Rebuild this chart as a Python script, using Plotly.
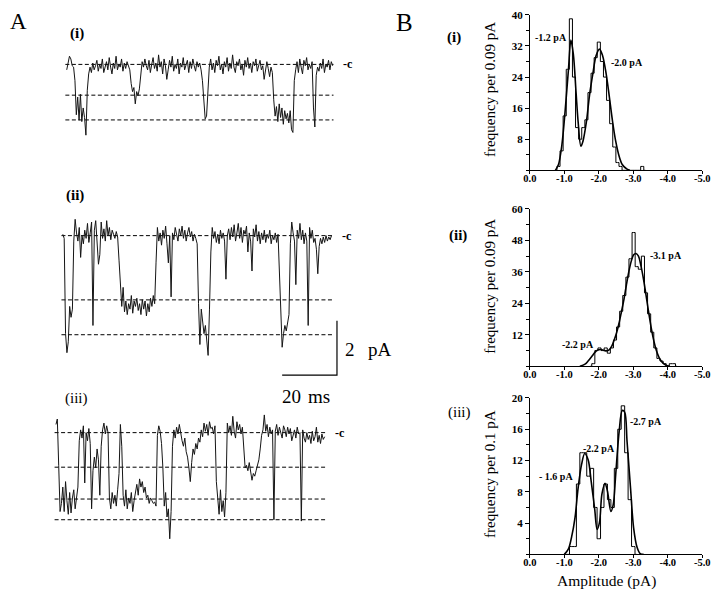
import numpy as np
import plotly.graph_objects as go

W, H = 720, 591
SERIF = "Liberation Serif"

# ---------------- DATA ----------------
# Panel A: single-channel current traces, pA (closed level = 0), sampled every 0.5 ms
DT_MS = 0.5
trace_i = ([-0.2, 0.1, 0.3, 0.2, -0.05, -0.1]
           + [-0.6, -1.85, -1.2, -2.05, -1.1, -2.1, -1.6, -1.95, -2.6, -0.95]
           + [-0.35, -0.1, -0.3, 0.05, -0.2, -0.05, 0.15, -0.25, 0.0, -0.15, 0.2, -0.3, -0.05, 0.1, -0.2, 0.25,
              -0.1, -0.35, 0.05, -0.15, 0.3, -0.2, 0.0, -0.1, 0.2, -0.25, 0.05, -0.15, 0.1, -0.05, -0.2]
           + [-0.7, -1.0, -0.85, -1.45, -1.0, -1.15, -0.9, -0.3]
           + [0.1, -0.1, 0.2, -0.05, -0.2, 0.15, -0.3, 0.0, 0.25, -0.15, 0.05, -0.25, 0.35, -0.1, 0.1, -0.35,
              0.2, -0.05, -0.55, -0.2, 0.15, -0.1, 0.3, -0.25, 0.0, -0.15, 0.2, -0.35, 0.05, -0.1, 0.25, -0.2,
              -0.05, 0.15, -0.3, 0.1, -0.15, 0.2, -0.05, -0.25, 0.1, -0.1, 0.05, -0.2]
           + [-0.6, -1.5, -2.0, -1.9, -0.9]
           + [-0.1, 0.2, -0.2, 0.05, -0.3, 0.15, -0.05, 0.3, -0.2, 0.0, -0.35, 0.1, -0.1, 0.25, -0.25, 0.05,
              -0.15, 0.35, -0.1, -0.3, 0.1, -0.05, 0.2, -0.2, 0.0, -0.4, 0.15, -0.1, 0.25, -0.15, 0.05, -0.3,
              0.1, -0.05, 0.2, -0.25, 0.0, 0.15, -0.2, -0.05, -0.55, -0.2, 0.1, -0.15, -0.45, -0.1, -0.3]
           + [-1.3, -1.9, -1.55, -2.1, -1.45, -1.95, -1.6, -2.2, -1.7, -2.0, -1.8, -2.15, -1.7, -2.4, -2.5]
           + [-0.6, -0.2, 0.1, -0.3, 0.2, -0.1, -0.35, 0.15, -0.05, 0.25, -0.2, 0.0, -0.15, 0.1]
           + [-1.6, -2.3]
           + [-0.4, -0.1, -0.25, 0.05, -0.15, 0.2, -0.3, 0.0, -0.1, 0.15, -0.2, 0.1, -0.05])

trace_ii = ([0.05, -0.1]
            + [-3.6, -4.3, -3.9, -2.6, -3.0, -2.7]
            + [-0.2, 0.6, 0.1, -0.2, 0.3, -0.8, 0.0, -0.3, 0.2, -0.1, 0.45, -0.25, 0.1, 0.5, -3.3, 0.2, 0.55,
               -0.3, -1.05, -0.7, 0.5, -0.1, 0.25, -0.2, 0.55, 0.0, 0.3, -0.15, 0.2, 0.05, -0.1, 0.15, -0.05]
            + [-0.9, -2.0, -2.6, -1.9, -2.8, -2.4, -2.9, -2.5, -2.7, -2.2, -2.85, -2.4, -2.6, -2.3, -2.75, -2.5,
               -2.9, -2.35, -2.7, -2.4, -2.95, -2.5, -2.8, -2.3, -2.6, -2.2, -2.5]
            + [-1.0, 0.3, -0.2, 0.1, -0.35, 0.2, -0.1, 0.35, -0.3, -1.0, 0.0, -2.25, 0.1, -0.15, 0.3, 0.05, -0.2,
               0.25, 0.0, 0.35, -0.1, 0.2, -0.2, 0.1, 0.3, -0.05, 0.15, -0.2, 0.05, -0.1, -0.3]
            + [-2.5, -4.0, -2.7, -3.2, -3.6, -3.3, -3.8, -4.4, -2.7, -0.6]
            + [0.3, -0.1, 0.15, -0.25, 0.05, -0.3, 0.2, -0.1, 0.1, -0.2, -1.6, 0.0, 0.25, -0.15, 0.3, -0.05, 0.4,
               -0.2, 0.1, 0.45, -0.1, 0.3, -0.25, 0.2, 0.05, 0.35, -0.6, 0.1, -0.2, -1.3, 0.25, -0.05, 0.4, -0.2,
               0.15, -0.3, 0.1, -0.15, 0.2, -0.25, 0.05, -0.1, 0.2, -0.3, 0.0, -0.15, 0.1, -0.25, 0.05]
            + [-1.5, -3.0, -4.1, -3.6, -3.3, -3.5, -3.2, -2.9]
            + [-0.3, 0.5, 0.1, -0.2, -1.8, 0.2, -0.1, 0.45, -0.15, 0.2, -0.3, 0.1, -0.2, -3.3, 0.3, -0.1, 0.2,
               -0.25, -0.1, -0.5, -1.4, -0.4, -0.1, -0.3, -0.05, -0.25, 0.0, -0.2, -0.05, -0.15, 0.0])

trace_iii = ([0.3, 0.5]
             + [-1.2, -2.9, -2.6, -2.0, -2.9, -1.8, -2.5, -3.0, -2.2, -2.95, -2.4, -2.1, -2.8, -2.3, -2.0]
             + [-0.3, 0.1, -0.2, 0.25, -1.85, 0.0, -0.3, 0.15, -0.4]
             + [-2.8, -1.4, -0.9, -1.3, -0.6, -1.0, -2.3, -0.5]
             + [0.1, 0.35, -0.05, 0.25, 0.0]
             + [-2.4, -2.8, -2.2, -2.6, -2.3, -2.7, -2.1, -1.5]
             + [0.3, -0.5]
             + [-2.3, -2.7, -2.1, -2.8, -2.4, -2.6, -2.2, -2.9, -2.5, -2.1, -1.9, -2.3, -1.7, -2.0, -1.8, -2.2,
                -2.0, -2.4, -2.3, -2.6, -2.4, -2.5, -2.6, -2.55, -2.7]
             + [-0.1, 0.25, 0.05, -0.4]
             + [-1.3, -2.7, -2.2, -3.1, -2.8, -3.9, -2.9]
             + [-0.5, 0.1, -0.2, 0.2, -0.05, 0.3, -0.1]
             + [-0.3, -0.5, -0.2, -0.7, -0.9, -1.3, -1.8, -1.1, -0.6, -0.8, -0.4, -0.6, -0.2, -0.35]
             + [0.1, -0.15, 0.35, 0.05, 0.3, -0.1, 0.4, 0.15, 0.2, -0.05, 0.25]
             + [-1.8, -2.6, -3.0, -2.1, -2.9, -2.5, -3.1, -2.2]
             + [0.35, 0.0, 0.25, -0.1, 0.6, 0.05, -0.2, 0.4, 0.1, 0.3, -0.05, 0.2]
             + [-0.5, -1.3, -1.2, -1.4, -1.1, -1.5, -1.75, -1.5, -1.6, -1.4, -1.2, -1.0, -0.6]
             + [-0.1, 0.1, 0.65, 0.05, 0.3, -0.15, 0.2, -0.05, 0.1]
             + [-3.2]
             + [0.05, 0.3, -0.1, 0.2, 0.0, -0.2, 0.25, 0.1, -0.15, 0.2, -0.05, 0.15, -0.3, -0.1, 0.1, -0.2, 0.2,
                -0.05, 0.0]
             + [-3.25]
             + [0.1, -0.2, -0.35, 0.0, -0.25, -0.1, -0.4, 0.05, -0.3, -0.15, 0.2, -0.35, -0.1, -0.4, -0.05,
                -0.25, -0.15])

levels_i = [0.0, -1.13, -2.04]
levels_ii = [0.0, -2.36, -3.64]
levels_iii = [0.0, -1.27, -2.44, -3.2]

SCALE_PA = 2
SCALE_MS = 20

# Panel B: amplitude histograms
hist_i_first, hist_i_width = -0.74, 0.09
hist_i_counts = [0, 1, 5, 14, 26, 39, 24, 11, 8, 11, 13, 20, 25, 29, 33, 28, 24, 18, 12, 6, 2, 1, 0,
                 0, 0, 0, 0, 0, 1, 0]
fit_i_x = [-0.74, -0.83, -0.93, -1.02, -1.12, -1.19, -1.26, -1.34, -1.40, -1.48, -1.54, -1.64, -1.73,
           -1.83, -1.92, -2.02, -2.11, -2.21, -2.30, -2.40, -2.49, -2.59, -2.68, -2.82, -2.90]
fit_i_y = [0, 1.5, 6.6, 15, 26, 33.5, 30, 20, 12.5, 6.2, 7.5, 12.5, 19.3, 25, 29.5, 31.2, 29.5, 25, 19.3,
           12.5, 7.5, 3.6, 1.5, 0.3, 0]

hist_ii_first, hist_ii_width = -1.75, 0.09
hist_ii_counts = [0, 1, 6, 7, 6, 7, 5, 7, 10, 15, 21, 27, 34, 41, 51, 38, 37, 42, 28, 20, 13, 7, 3, 2, 1,
                  0, 1, 1, 0]
fit_ii_x = [-1.45, -1.60, -1.69, -1.80, -1.88, -1.97, -2.05, -2.11, -2.20, -2.30, -2.38, -2.44, -2.52,
            -2.59, -2.66, -2.73, -2.80, -2.87, -2.94, -3.01, -3.08, -3.15, -3.22, -3.30, -3.39, -3.46,
            -3.53, -3.60, -3.67, -3.75, -3.82, -3.90, -3.96, -4.05]
fit_ii_y = [0, 0.8, 2.0, 3.8, 5.2, 6.2, 6.4, 6.2, 5.9, 6.3, 7.8, 9.8, 13, 16.6, 21, 25.5, 31, 36, 40,
            42.5, 43, 42, 38.5, 33, 25.4, 19.5, 14, 9.5, 6, 3.3, 1.8, 0.8, 0.3, 0]

hist_iii_first, hist_iii_width = -1.0, 0.1
hist_iii_counts = [0, 0, 1, 1, 9, 13, 13, 10, 11, 6, 2, 6, 9, 7, 6, 11, 16, 19, 13, 7, 1, 0]
fit_iii_x = [-1.0, -1.12, -1.21, -1.31, -1.40, -1.50, -1.59, -1.69, -1.78, -1.88, -1.95, -2.02, -2.09,
             -2.18, -2.25, -2.35, -2.42, -2.49, -2.59, -2.68, -2.75, -2.82, -2.92, -3.01, -3.11, -3.20, -3.30]
fit_iii_y = [0, 0.7, 2.2, 4.7, 8.5, 11.5, 12.9, 12.1, 9.3, 5.8, 3.2, 4.1, 7.7, 9.1, 8.1, 5.5, 6.4, 10.2,
             15.7, 18.4, 18.2, 14.4, 8.5, 3.4, 0.9, 0.1, 0]

amp_ticks = [0.0, -1.0, -2.0, -3.0, -4.0, -5.0]
amp_ticktext = ["0.0", "-1.0", "-2.0", "-3.0", "-4.0", "-5.0"]

# ---------------- LAYOUT HELPERS ----------------
def dom_x(p0, p1):
    return [p0 / W, p1 / W]

def dom_y(top, bot):
    return [1 - bot / H, 1 - top / H]

def axname(letter, n):
    return f"{letter}axis" if n == 1 else f"{letter}axis{n}"

def axref(letter, n):
    return letter if n == 1 else f"{letter}{n}"

fig = go.Figure()
layout = {}
annotations = []

def ann(text, x, y, size, xref="paper", yref="paper", xanchor="center", yanchor="middle",
        bold=False, angle=0):
    if xref == "paper":
        x = x / W
    if yref == "paper":
        y = 1 - y / H
    annotations.append(dict(text=text, x=x, y=y, xref=xref, yref=yref, xanchor=xanchor,
                            yanchor=yanchor, showarrow=False, textangle=angle,
                            font=dict(family=SERIF, size=size, color="black",
                                      weight="bold" if bold else "normal")))

# ---------------- HISTOGRAMS ----------------
hists = [
    dict(n=1, first=hist_i_first, width=hist_i_width, counts=hist_i_counts, fx=fit_i_x, fy=fit_i_y,
         top=9, bot=166, ymax=40, dtick=8, minor=4, title="frequency per 0.09 pA", title_y=84,
         labels=[("-1.2 pA", -0.6, 34.1), ("-2.0 pA", -2.83, 27.8)]),
    dict(n=2, first=hist_ii_first, width=hist_ii_width, counts=hist_ii_counts, fx=fit_ii_x, fy=fit_ii_y,
         top=205, bot=364, ymax=60, dtick=12, minor=6, title="frequency per 0.09 pA", title_y=283,
         labels=[("-3.1 pA", -3.94, 42.3), ("-2.2 pA", -1.39, 8.3)]),
    dict(n=3, first=hist_iii_first, width=hist_iii_width, counts=hist_iii_counts, fx=fit_iii_x,
         fy=fit_iii_y, top=396, bot=554, ymax=20, dtick=4, minor=2, title="frequency per 0.1 pA",
         title_y=473,
         labels=[("-2.7 pA", -3.38, 17.0), ("-2.2 pA", -2.0, 13.6), ("- 1.6 pA", -0.77, 10.0)]),
]

for h in hists:
    n = h["n"]
    centers = h["first"] - h["width"] * np.arange(len(h["counts"]))
    fig.add_trace(go.Scatter(x=centers, y=h["counts"], mode="lines",
                             line=dict(color="black", width=1, shape="hvh"),
                             xaxis=axref("x", n), yaxis=axref("y", n), cliponaxis=False,
                             showlegend=False, hoverinfo="skip"))
    fig.add_trace(go.Scatter(x=h["fx"], y=h["fy"], mode="lines",
                             line=dict(color="black", width=1.6, shape="spline", smoothing=0.9),
                             xaxis=axref("x", n), yaxis=axref("y", n), cliponaxis=False,
                             showlegend=False, hoverinfo="skip"))
    layout[axname("x", n)] = dict(
        domain=dom_x(534, 710), range=[0, -5], anchor=axref("y", n),
        tickvals=amp_ticks, ticktext=amp_ticktext, ticks="outside", ticklen=3, tickwidth=1,
        tickcolor="black", showline=True, linecolor="black", linewidth=1, showgrid=False,
        zeroline=False, ticklabelstandoff=-5,
        tickfont=dict(family=SERIF, size=10.5, color="black", weight="bold"))
    layout[axname("y", n)] = dict(
        domain=dom_y(h["top"], h["bot"]), range=[0, h["ymax"]], anchor=axref("x", n),
        tickvals=list(range(h["dtick"], h["ymax"] + 1, h["dtick"])), ticks="outside", ticklen=4,
        tickwidth=1, tickcolor="black",
        minor=dict(ticks="outside", ticklen=2.5, tickcolor="black", dtick=h["minor"], tick0=0),
        showline=True, linecolor="black", linewidth=1, showgrid=False, zeroline=False,
        tickfont=dict(family=SERIF, size=11, color="black", weight="bold"))
    for txt, lx, ly in h["labels"]:
        ann(txt, lx, ly, 10, xref=axref("x", n), yref=axref("y", n), bold=True)
    ann(h["title"], 493, h["title_y"], 15, angle=-90)

ann("Amplitude (pA)", 612, 581, 15.5)

# ---------------- TRACES ----------------
PX_PER_MS = 2.8
PX_PER_PA = 27.5
TR_X0, TR_X1 = 40, 380

traces = [
    dict(n=4, vals=trace_i, levels=levels_i, start_px=61, closed_py=59, top=40, bot=140),
    dict(n=5, vals=trace_ii, levels=levels_ii, start_px=57, closed_py=232, top=195, bot=380),
    dict(n=6, vals=trace_iii, levels=levels_iii, start_px=50, closed_py=431, top=400, bot=560),
]

for tr in traces:
    n = tr["n"]
    t = np.arange(len(tr["vals"])) * DT_MS
    xr = [(TR_X0 - tr["start_px"]) / PX_PER_MS, (TR_X1 - tr["start_px"]) / PX_PER_MS]
    yr = [-(tr["bot"] - tr["closed_py"]) / PX_PER_PA, (tr["closed_py"] - tr["top"]) / PX_PER_PA]
    for lev in tr["levels"]:
        fig.add_trace(go.Scatter(x=[t[0] - 0.5, t[-1] + 0.3], y=[lev, lev], mode="lines",
                                 line=dict(color="black", width=1, dash="4px,2.5px"),
                                 xaxis=axref("x", n), yaxis=axref("y", n),
                                 showlegend=False, hoverinfo="skip"))
    fig.add_trace(go.Scatter(x=t, y=tr["vals"], mode="lines",
                             line=dict(color="#151515", width=1),
                             xaxis=axref("x", n), yaxis=axref("y", n), cliponaxis=False,
                             showlegend=False, hoverinfo="skip"))
    layout[axname("x", n)] = dict(domain=dom_x(TR_X0, TR_X1), range=xr, anchor=axref("y", n),
                                  visible=False)
    layout[axname("y", n)] = dict(domain=dom_y(tr["top"], tr["bot"]), range=yr,
                                  anchor=axref("x", n), visible=False)
    ann("-c", tr["start_px"] + (t[-1] + 3.2) * PX_PER_MS, tr["closed_py"], 12, xanchor="left",
        bold=True)

# scale bar (drawn in trace (ii) coordinates)
tr2 = traces[1]
corner_t = (337 - tr2["start_px"]) / PX_PER_MS
corner_y = -(373 - tr2["closed_py"]) / PX_PER_PA
fig.add_trace(go.Scatter(x=[corner_t, corner_t, corner_t - SCALE_MS],
                         y=[corner_y + SCALE_PA, corner_y, corner_y], mode="lines",
                         line=dict(color="black", width=1.2), xaxis="x5", yaxis="y5",
                         cliponaxis=False, showlegend=False, hoverinfo="skip"))
ann(str(SCALE_PA), 343, 347, 19, xanchor="left")
ann("pA", 395, 347, 19, xanchor="right")
ann(str(SCALE_MS), 279, 395, 19, xanchor="left")
ann("ms", 332, 395, 19, xanchor="right")

# panel labels
ann("A", 12, 16, 23)
ann("B", 406, 17, 25)
ann("(i)", 71, 28, 15, bold=True)
ann("(ii)", 69, 191, 15, bold=True)
ann("(iii)", 71, 397, 15)
ann("(i)", 457, 32, 15, bold=True)
ann("(ii)", 461, 232, 15, bold=True)
ann("(iii)", 462, 411, 15)

fig.update_layout(width=W, height=H, margin=dict(l=0, r=0, t=0, b=0),
                  paper_bgcolor="white", plot_bgcolor="rgba(0,0,0,0)",
                  showlegend=False, annotations=annotations, **layout)

fig.write_html("out.html", config={"displayModeBar": False},
               post_script="document.body.style.margin='0';document.body.style.overflow='hidden';")
